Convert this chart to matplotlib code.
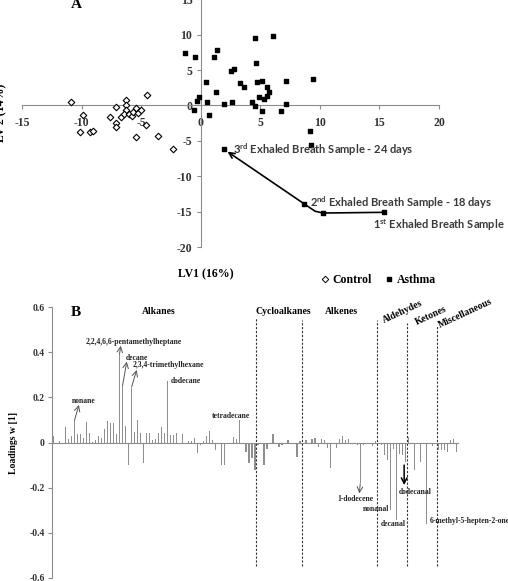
import numpy as np
import matplotlib.pyplot as plt
from matplotlib.lines import Line2D

plt.rcParams['axes.unicode_minus'] = False
SERIF = 'Liberation Serif'
SANS = 'Lato'

# ---- Panel A: PLS-DA scores ----
control_x = [-10.9, -9.9, -10.1, -9.3, -9.0, -7.1, -7.6, -7.1, -7.1, -6.7, -6.3, -6.25, -6.25,
             -6.4, -6.0, -5.8, -5.7, -5.4, -5.3, -5.0, -4.5, -4.6, -5.4, -3.6, -2.3]
control_y = [0.45, -1.3, -3.8, -3.8, -3.6, -0.2, -1.7, -2.5, -3.1, -1.7, 0.75, 0.0, -0.6,
             -1.2, -1.2, -1.5, -0.9, -0.4, -1.0, -0.6, 1.45, -2.8, -4.5, -4.3, -6.2]

asthma_x = [-1.3, -0.5, -0.56, -0.3, -0.14, 0.42, 0.53, 0.67, 1.12, 1.37, 1.26, 1.96, 2.52, 2.83,
            2.66, 3.3, 3.6, 4.3, 4.56, 6.08, 4.65, 4.76, 5.18, 5.55, 5.7, 4.87, 5.55, 5.3, 4.56,
            5.13, 6.72, 7.17, 7.17, 9.4, 9.16, 9.27, 1.96, 8.68, 10.28, 15.4]
asthma_y = [7.35, 6.8, -0.66, 0.65, 1.2, 3.3, 0.5, -1.4, 6.8, 7.8, 1.84, 0.18, 4.9, 5.2,
            0.47, 3.15, 2.6, 0.45, 9.56, 9.76, 6.0, 3.3, 3.4, 2.55, 1.9, 1.2, 1.3, 0.85, -0.1,
            -0.8, -0.76, 0.18, 3.4, 3.77, -3.6, -5.6, -6.2, -13.9, -15.2, -15.1]

# follow-up samples of one patient (1st -> 2nd -> 3rd)
traj_x = [15.4, 10.28, 9.6, 8.68, 1.96]
traj_y = [-15.1, -15.2, -14.95, -13.9, -6.2]

# ---- Panel B: loadings by compound class ----
alkanes = [0.03, 0.0, 0.007, 0.0, 0.068, 0.016, 0.03, 0.095, 0.036, 0.036, 0.02, 0.089, 0.044,
           0.003, 0.009, 0.03, 0.018, 0.058, 0.095, 0.086, 0.086, 0.037, 0.391, 0.25, 0.072,
           -0.1, 0.244, 0.047, 0.098, 0.04, -0.093, 0.041, 0.041, 0.01, 0.016, 0.043, 0.067,
           0.04, 0.274, 0.033, 0.033, 0.044, 0.0, 0.036, 0.0, 0.007, 0.007, 0.02, -0.047,
           -0.01, 0.007, 0.03, 0.053, 0.01, -0.033, 0.0, -0.1, -0.1, 0.0, -0.005, 0.024,
           0.015, 0.102, 0.0, -0.041, -0.093, -0.071, -0.124]
cycloalkanes = [-0.01, 0.0, -0.1, -0.03, 0.0, 0.036, 0.0, -0.018, -0.012, 0.0, 0.009, 0.0,
                0.0, -0.064, 0.005]
alkenes = [0.0, 0.01, 0.0, 0.014, 0.02, -0.018, 0.014, 0.01, -0.024, -0.114, 0.0, -0.024,
           0.014, 0.027, 0.01, 0.015, 0.0, 0.0, -0.01, -0.181, -0.01, -0.007, 0.0, -0.015, 0.005]
aldehydes = [0.0, -0.01, -0.056, -0.077, -0.3, -0.03, -0.344, -0.05, -0.056, -0.085]
ketones = [0.025, 0.0, -0.12, 0.0, -0.085, 0.0, -0.36, 0.0, -0.015, 0.0]
miscellaneous = [-0.035, -0.035, -0.035, -0.04, 0.01, 0.015, -0.04]

groups = [alkanes, cycloalkanes, alkenes, aldehydes, ketones, miscellaneous]
loadings = np.concatenate(groups)
bounds = np.cumsum([len(g) for g in groups])[:-1] - 0.5

fig = plt.figure(figsize=(5.08, 5.81), dpi=100)

# ================= A =================
axA = fig.add_axes([22 / 508, 1 - 247 / 581, 417 / 508, 247.7 / 581])
axA.set_xlim(-15, 20)
axA.set_ylim(-20, 15)
for s in ['top', 'right']:
    axA.spines[s].set_visible(False)
for s in ['left', 'bottom']:
    axA.spines[s].set_position(('data', 0))
    axA.spines[s].set_color('#8c8c8c')
axA.set_xticks(range(-15, 21, 5))
axA.set_yticks(range(-20, 16, 5))
axA.tick_params(axis='x', direction='out', length=3, color='#8c8c8c', pad=5)
axA.tick_params(axis='y', direction='out', length=3, color='#8c8c8c', pad=3)
for lab in axA.get_xticklabels() + axA.get_yticklabels():
    lab.set_fontfamily(SERIF)
    lab.set_fontweight('bold')
    lab.set_fontsize(8.5)
    lab.set_color('#333333')

axA.scatter(control_x, control_y, marker='D', s=11, facecolors='white', edgecolors='black',
            linewidths=0.8, zorder=3)
axA.scatter(asthma_x, asthma_y, marker='s', s=11, color='black', zorder=3)

axA.plot(traj_x[:-1], traj_y[:-1], color='black', lw=1.2, zorder=2)
axA.annotate('', xy=(traj_x[-1], traj_y[-1]), xytext=(traj_x[-2], traj_y[-2]),
             arrowprops=dict(arrowstyle='->', color='black', lw=1.2, shrinkA=0, shrinkB=3))

sample_kw = dict(fontfamily=SANS, fontweight='bold', fontsize=8, color='#3a3a3a',
                 ha='left', va='center')
axA.text(2.69, -6.32, r'3$^{\mathregular{rd}}$ Exhaled Breath Sample - 24 days', **sample_kw)
axA.text(9.15, -13.8, r'2$^{\mathregular{nd}}$ Exhaled Breath Sample - 18 days', **sample_kw)
axA.text(14.5, -16.9, r'1$^{\mathregular{st}}$ Exhaled Breath Sample', **sample_kw)

axA.set_ylabel('LV 2 (14%)', fontfamily=SERIF, fontweight='bold', fontsize=8.5)
axA.yaxis.set_label_coords(-0.036, 0.54)

fig.text(205.5 / 508, 1 - 274 / 581, 'LV1 (16%)', fontfamily=SERIF, fontweight='bold',
         fontsize=8.5, ha='center', va='center')
fig.text(76 / 508, 1 - 8.3 / 581, 'A', fontfamily=SERIF, fontweight='bold', fontsize=11,
         ha='center', va='baseline')

handles = [Line2D([], [], marker='D', ls='none', mfc='white', mec='black', ms=3.3, mew=0.7),
           Line2D([], [], marker='s', ls='none', color='black', ms=3.3)]
fig.legend(handles, ['Control', 'Asthma'], loc='center',
           bbox_to_anchor=(378 / 508, 1 - 280 / 581), ncol=2, frameon=False,
           prop=dict(family=SERIF, weight='bold', size=8.5),
           handlelength=0.8, handletextpad=0.25, columnspacing=1.0)

# ================= B =================
axB = fig.add_axes([51.7 / 508, 1 - 577.7 / 581, 406.3 / 508, 270.4 / 581])
axB.set_xlim(-0.55, 134.5)
axB.set_ylim(-0.6, 0.6)
axB.bar(np.arange(len(loadings)), loadings, width=0.4, color='#8f8f8f', linewidth=0)
for s in ['top', 'right']:
    axB.spines[s].set_visible(False)
axB.spines['bottom'].set_position(('data', 0))
axB.spines['bottom'].set_color('#8c8c8c')
axB.spines['left'].set_color('#8c8c8c')
axB.set_xticks([])
yt = [-0.6, -0.4, -0.2, 0, 0.2, 0.4, 0.6]
axB.set_yticks(yt)
axB.set_yticklabels(['-0.6', '-0.4', '-0.2', '0', '0.2', '0.4', '0.6'],
                    fontfamily=SERIF, fontweight='bold', fontsize=7, color='#333333')
axB.tick_params(axis='y', direction='out', length=3, color='#8c8c8c', pad=2)
axB.set_ylabel('Loadings w [1]', fontfamily=SERIF, fontweight='bold', fontsize=7)
axB.yaxis.set_label_coords(-0.083, 0.5)

tops = [0.553, 0.544, 0.544, 0.532, 0.522]
for b, t in zip(bounds, tops):
    axB.plot([b, b], [-0.548, t], ls=(0, (2, 1.5)), color='#333333', lw=0.8)

grp_kw = dict(fontfamily=SERIF, fontweight='bold', fontsize=7, ha='center', va='center')
axB.text(35.1, 0.58, 'Alkanes', **grp_kw)
axB.text(76.4, 0.58, 'Cycloalkanes', **grp_kw)
axB.text(95.9, 0.58, 'Alkenes', **grp_kw)
axB.text(116.2, 0.578, 'Aldehydes', rotation=25, **grp_kw)
axB.text(125.5, 0.563, 'Ketones', rotation=25, **grp_kw)
axB.text(137.0, 0.571, 'Miscellaneous', rotation=25, **grp_kw)

cmp_kw = dict(fontfamily=SERIF, fontweight='bold', fontsize=5.5, color='#222222')
arr = dict(arrowstyle='->', color='#555555', lw=0.7, shrinkA=0, shrinkB=0)
axB.text(10.1, 0.184, 'nonane', ha='center', va='center', **cmp_kw)
axB.annotate('', xy=(8.5, 0.167), xytext=(7, 0.097), arrowprops=arr)
axB.text(26.6, 0.448, '2,2,4,6,6-pentamethylheptane', ha='center', va='center', **cmp_kw)
axB.annotate('', xy=(22.4, 0.429), xytext=(22, 0.393), arrowprops=arr)
axB.text(24.15, 0.377, 'decane', ha='left', va='center', **cmp_kw)
axB.annotate('', xy=(24.4, 0.359), xytext=(23, 0.252), arrowprops=arr)
axB.text(26.4, 0.343, '2,3,4-trimethylhexane', ha='left', va='center', **cmp_kw)
axB.annotate('', xy=(27.7, 0.322), xytext=(26, 0.246), arrowprops=arr)
axB.text(39.1, 0.273, 'dodecane', ha='left', va='center', **cmp_kw)
axB.text(59.0, 0.116, 'tetradecane', ha='center', va='center', **cmp_kw)
axB.text(100.4, -0.252, '1-dodecene', ha='center', va='center', **cmp_kw)
axB.annotate('', xy=(101.7, -0.226), xytext=(102, -0.183), arrowprops=arr)
axB.text(111.7, -0.296, 'nonanal', ha='right', va='center', **cmp_kw)
axB.text(113.0, -0.361, 'decanal', ha='center', va='center', **cmp_kw)
axB.text(120.4, -0.219, 'dodecanal', ha='center', va='center', **cmp_kw)
axB.annotate('', xy=(116.6, -0.189), xytext=(116.6, -0.1),
             arrowprops=dict(arrowstyle='->', color='black', lw=1.1, shrinkA=0, shrinkB=0))
axB.text(125.2, -0.349, '6-methyl-5-hepten-2-one', ha='left', va='center', **cmp_kw)

fig.text(75.5 / 508, 1 - 316 / 581, 'B', fontfamily=SERIF, fontweight='bold', fontsize=11,
         ha='center', va='baseline')

fig.savefig('out.png', dpi=100)
